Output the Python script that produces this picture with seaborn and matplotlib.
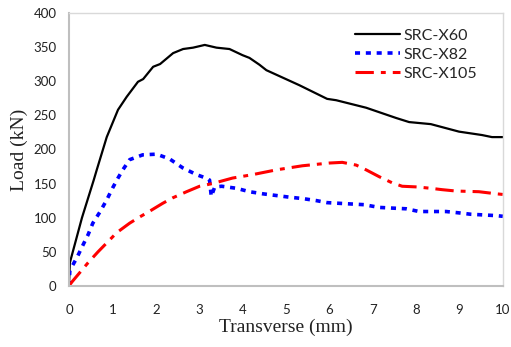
import matplotlib
matplotlib.use("Agg")
import matplotlib.pyplot as plt
import seaborn as sns
import pandas as pd

x60_x = [0.0, 0.02, 0.3, 0.57, 0.64, 0.87, 1.13, 1.33, 1.59, 1.71, 1.94, 2.1, 2.4, 2.63, 2.86, 3.13,
         3.4, 3.7, 4.0, 4.16, 4.39, 4.55, 5.31, 5.95, 6.16, 6.85, 7.54, 7.84, 8.34, 8.99, 9.52, 9.75, 10.0]
x60_y = [0, 34, 100, 155, 170, 218, 258, 277, 299, 303, 321, 325, 341, 347, 349, 353,
         349, 347, 338, 334, 324, 316, 294, 274, 272, 261, 246, 240, 237, 226, 221, 218, 218]

x82_x = [0.0, 0.02, 0.18, 0.3, 0.44, 0.55, 0.71, 0.87, 1.01, 1.13, 1.24, 1.4, 1.7, 2.02, 2.32, 2.62,
         2.94, 3.2, 3.24, 3.28, 3.36, 3.52, 3.86, 4.16, 4.46, 5.08, 5.38, 5.7, 5.95, 6.23, 6.8, 7.15,
         7.45, 7.77, 8.07, 8.69, 8.99, 9.26, 9.84, 10.0]
x82_y = [0, 23, 41, 57, 75, 92, 108, 126, 144, 158, 170, 185, 192, 193, 186, 173,
         163, 157, 155, 131, 145, 146, 143, 138, 135, 130, 128, 125, 122, 121, 119, 115,
         114, 113, 109, 109, 107, 105, 103, 102]

x105_x = [0.0, 0.07, 0.44, 0.67, 0.87, 1.1, 1.4, 1.63, 1.9, 2.16, 2.39, 2.71, 3.01, 3.31, 3.77, 4.23,
          4.78, 5.38, 6.0, 6.3, 6.62, 6.85, 7.15, 7.45, 7.68, 8.02, 8.34, 8.6, 8.92, 9.45, 9.84, 10.0]
x105_y = [0, 6, 34, 50, 63, 78, 92, 101, 111, 121, 129, 138, 146, 150, 158, 163,
          170, 176, 180, 181, 177, 170, 160, 151, 146, 145, 143, 141, 139, 138, 135, 134]

labels = ["SRC-X60", "SRC-X82", "SRC-X105"]
x_ticks = [0, 1, 2, 3, 4, 5, 6, 7, 8, 9, 10]
y_ticks = [0, 50, 100, 150, 200, 250, 300, 350, 400]

sns.set_theme(style="white")
plt.rcParams['font.family'] = ['Lato', 'DejaVu Sans']

fig = plt.figure(figsize=(5.11, 3.47), dpi=100)
ax = fig.add_axes([0.135, 0.176, 0.849, 0.787])

df60 = pd.DataFrame({"x": x60_x, "y": x60_y})
df82 = pd.DataFrame({"x": x82_x, "y": x82_y})
df105 = pd.DataFrame({"x": x105_x, "y": x105_y})

sns.lineplot(data=df60, x="x", y="y", ax=ax, color="black", lw=1.6, label=labels[0],
             sort=False, estimator=None)
sns.lineplot(data=df82, x="x", y="y", ax=ax, color="#0000ff", lw=2.6, label=labels[1],
             sort=False, estimator=None)
ax.lines[-1].set_dashes([1.4, 1.6])
sns.lineplot(data=df105, x="x", y="y", ax=ax, color="#ff0000", lw=2.2, label=labels[2],
             sort=False, estimator=None)
ax.lines[-1].set_dashes([6, 2.3, 1.6, 2.3])

ax.set_xlim(0, 10)
ax.set_ylim(0, 400)
ax.set_xticks(x_ticks)
ax.set_yticks(y_ticks)
ax.tick_params(axis="both", length=0, labelsize=9.5, colors="#222222")
ax.tick_params(axis="x", pad=13)
ax.tick_params(axis="y", pad=9)
ax.set_xticklabels([str(t) for t in x_ticks])
ax.set_yticklabels([str(t) for t in y_ticks])

for side in ["top", "right"]:
    ax.spines[side].set_color("#d9d9d9")
    ax.spines[side].set_linewidth(1.0)
for side in ["left", "bottom"]:
    ax.spines[side].set_color("#bfbfbf")
    ax.spines[side].set_linewidth(1.5)

ax.set_xlabel("Transverse (mm)", family=["Liberation Serif"], fontsize=14, color="#222222", labelpad=2)
ax.set_ylabel("Load (kN)", family=["Liberation Serif"], fontsize=14, color="#222222", labelpad=4)

leg = ax.legend(loc="upper left", bbox_to_anchor=(0.645, 0.965), frameon=False, fontsize=11.5,
                handlelength=2.8, handletextpad=0.25, labelspacing=0.3, borderaxespad=0.0)

fig.savefig("out.png", dpi=100)
